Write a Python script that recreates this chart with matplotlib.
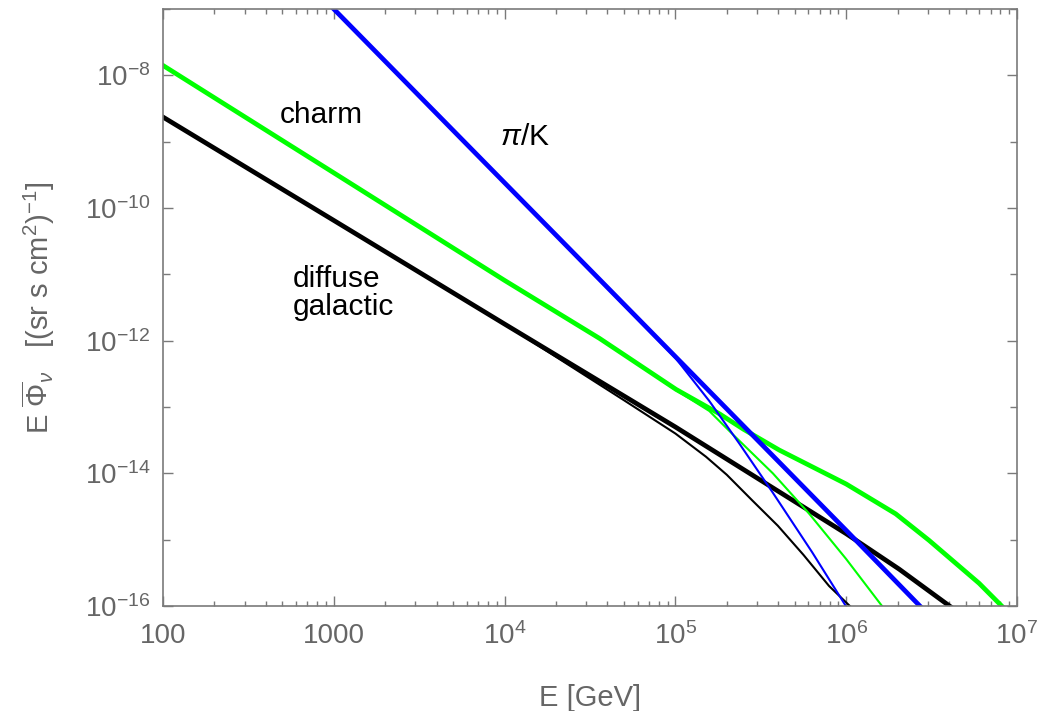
import numpy as np
import matplotlib
matplotlib.use('Agg')
import matplotlib.pyplot as plt
from matplotlib.ticker import FixedLocator, FixedFormatter, NullFormatter

plt.rcParams['font.family'] = ['Liberation Sans', 'DejaVu Sans']
plt.rcParams['mathtext.fontset'] = 'custom'
plt.rcParams['mathtext.rm'] = 'Liberation Sans'
plt.rcParams['mathtext.it'] = 'Liberation Sans:italic'
plt.rcParams['mathtext.bf'] = 'Liberation Sans:bold'

# conventional pi/K flux, with and without the knee
pik_E = [1.0e3, 1.0e4, 1.0e5, 1.0e6, 2.7e6]
pik_flux = [1.0e-7, 2.4e-10, 5.75e-13, 1.38e-15, 1.0e-16]
pik_knee_E = [1.0e3, 1.0e4, 1.0e5, 1.58e5, 2.37e5, 3.72e5, 6.31e5, 1.0e6]
pik_knee_flux = [1.0e-7, 2.4e-10, 5.5e-13, 1.23e-13, 2.8e-14, 5.1e-15, 6.5e-16, 9.8e-17]

# prompt charm flux
charm_E = [1.0e2, 1.0e3, 1.0e4, 3.6e4, 1.01e5, 1.81e5, 2.51e5, 4.06e5, 1.0e6,
           1.95e6, 3.05e6, 6.0e6, 8.2e6]
charm_flux = [1.41e-8, 3.39e-10, 8.1e-12, 1.08e-12, 1.84e-13, 7.9e-14, 4.6e-14,
              2.24e-14, 6.9e-15, 2.45e-15, 9.8e-16, 2.2e-16, 9.8e-17]
charm_knee_E = [1.0e2, 1.0e3, 1.0e4, 3.6e4, 1.0e5, 1.58e5, 2.16e5, 3.72e5, 6.08e5,
                1.0e6, 1.63e6]
charm_knee_flux = [1.41e-8, 3.39e-10, 8.1e-12, 1.08e-12, 1.82e-13, 8.7e-14, 3.9e-14,
                   1.0e-14, 2.45e-15, 5.1e-16, 9.8e-17]

# diffuse galactic flux
gal_E = [1.0e2, 1.0e3, 1.0e4, 1.0e5, 1.0e6, 2.04e6, 4.07e6]
gal_flux = [2.35e-9, 6.5e-11, 1.78e-12, 5.0e-14, 1.23e-15, 3.6e-16, 9.8e-17]
gal_knee_E = [1.0e2, 1.0e3, 1.0e4, 5.01e4, 1.0e5, 1.51e5, 2.0e5, 2.82e5, 3.98e5,
              5.62e5, 7.94e5, 1.05e6]
gal_knee_flux = [2.35e-9, 6.5e-11, 1.78e-12, 1.26e-13, 3.98e-14, 1.78e-14, 9.5e-15,
                 3.9e-15, 1.62e-15, 5.9e-16, 2.0e-16, 1.0e-16]

fig = plt.figure(figsize=(10.37, 7.11), dpi=100)
ax = fig.add_axes([0.1572, 0.1477, 0.8235, 0.8396])

ax.plot(gal_knee_E, gal_knee_flux, color='black', lw=1.5)
ax.plot(gal_E, gal_flux, color='black', lw=3.4)
ax.plot(charm_knee_E, charm_knee_flux, color='#00ff00', lw=1.5)
ax.plot(charm_E, charm_flux, color='#00ff00', lw=3.4)
ax.plot(pik_knee_E, pik_knee_flux, color='#0000ff', lw=1.5)
ax.plot(pik_E, pik_flux, color='#0000ff', lw=3.4)

ax.set_xscale('log')
ax.set_yscale('log')
ax.set_xlim(100, 1e7)
ax.set_ylim(1e-16, 1e-7)

grey = '#7a7a7a'
for s in ax.spines.values():
    s.set_color(grey)
    s.set_linewidth(1.2)

xmaj = [1e2, 1e3, 1e4, 1e5, 1e6, 1e7]
xlabels = ['100', '1000', '$10^{4}$', '$10^{5}$', '$10^{6}$', '$10^{7}$']
ax.xaxis.set_major_locator(FixedLocator(xmaj))
ax.xaxis.set_major_formatter(FixedFormatter(xlabels))
xminor = [m * 10.0 ** k for k in range(2, 7) for m in range(2, 10)]
ax.xaxis.set_minor_locator(FixedLocator(xminor))
ax.xaxis.set_minor_formatter(NullFormatter())

ymaj = [1e-16, 1e-14, 1e-12, 1e-10, 1e-8]
ylabels = ['$10^{-16}$', '$10^{-14}$', '$10^{-12}$', '$10^{-10}$', '$10^{-8}$']
ax.yaxis.set_major_locator(FixedLocator(ymaj))
ax.yaxis.set_major_formatter(FixedFormatter(ylabels))
ax.yaxis.set_minor_locator(FixedLocator([1e-15, 1e-13, 1e-11, 1e-9, 1e-7]))
ax.yaxis.set_minor_formatter(NullFormatter())

ax.tick_params(which='both', direction='in', top=True, right=True, color=grey,
               labelcolor='#666666', labelsize=20, width=1)
ax.tick_params(axis='x', which='major', length=7, pad=12)
ax.tick_params(axis='x', which='minor', length=3.5)
ax.tick_params(axis='y', which='major', length=7, pad=9)
ax.tick_params(axis='y', which='minor', length=5)

ax.set_xlabel('E [GeV]', fontsize=21, color='#666666', labelpad=24)
ax.set_ylabel(r'E $\overline{\Phi}_{\nu}$   [(sr s cm$^{2}$)$^{-1}$]', fontsize=21,
              color='#666666', labelpad=20)

ax.text(845, 1.9e-9, 'charm', fontsize=21.5, ha='center', va='baseline')
ax.text(9350, 8.9e-10, r'$\pi$/K', fontsize=21.5, ha='left', va='baseline')
ax.text(575, 6.4e-12, 'diffuse', fontsize=21.5, ha='left', va='baseline')
ax.text(575, 2.43e-12, 'galactic', fontsize=21.5, ha='left', va='baseline')

fig.savefig('out.png', dpi=100)
